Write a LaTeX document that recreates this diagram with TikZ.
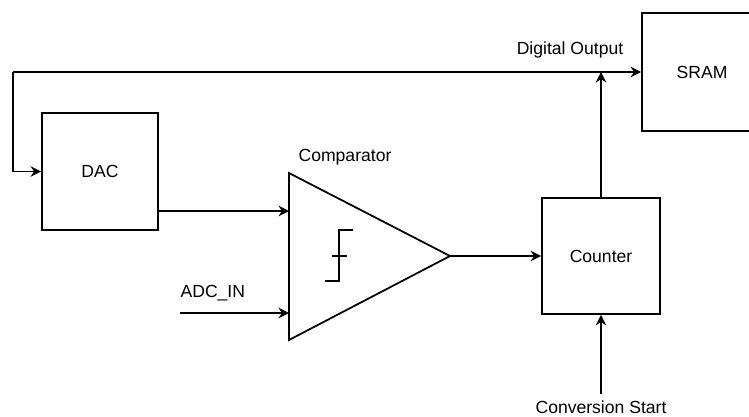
\documentclass[tikz,border=0pt]{standalone}
\usepackage{fontspec}
\setmainfont{Liberation Sans}
\usetikzlibrary{arrows.meta}
\begin{document}
\begin{tikzpicture}[x=0.02cm,y=-0.02cm,line width=1pt,
  every node/.style={font=\fontsize{10}{12}\selectfont},
  arr/.style={-{Stealth[length=6pt,width=6pt,inset=2pt]}}]
\useasboundingbox (0,0) rectangle (749,416);
\begin{scope}[every node/.style={draw,font=\fontsize{10}{12}\selectfont}]
  \node[minimum width=2.32cm,minimum height=2.34cm] (dac) at (100,171.5) {DAC};
  \node[minimum width=2.4cm,minimum height=2.36cm] (sram) at (702,72) {SRAM};
  \node[minimum width=2.36cm,minimum height=2.32cm] (counter) at (601,256) {Counter};
\end{scope}
% comparator
\coordinate (cin1) at (289,211);
\coordinate (cin2) at (289,313);
\coordinate (cout) at (450,256);
\draw (289,173) -- (cout) -- (289,340) -- cycle;
\draw (325,281) -- (339,281) -- (339,230) -- (353,230);
\draw (332,256) -- (347,256);
\node (cmplabel) at (345,157) {Comparator};
% feedback
\coordinate (top) at (13,72);
\draw[arr] (top) -- (sram.west);
\draw[arr] (top) |- (dac.west);
\draw[arr] (counter.north) -- (counter.north |- sram.west);
\node (outlabel) at (570,50) {Digital Output};
% signals
\draw[arr] (dac.east |- cin1) -- (cin1);
\coordinate (adcin) at (180,313);
\draw[arr] (adcin) -- (cin2);
\node[anchor=south west,inner sep=1pt] (adclabel) at (178,304) {ADC\_IN};
\draw[arr] (cout) -- (counter.west);
\node (cslabel) at (601,407) {Conversion Start};
\draw[arr] (cslabel.north) -- (counter.south);
\end{tikzpicture}
\end{document}
